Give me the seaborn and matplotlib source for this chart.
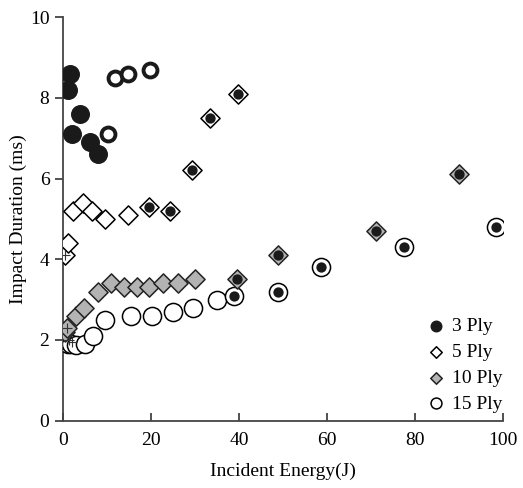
import numpy as np
import pandas as pd
import matplotlib
matplotlib.use("Agg")
import matplotlib.pyplot as plt
import seaborn as sns

ply3_x = [1.5, 1.0, 3.8, 2.0, 6.1, 8.0]
ply3_y = [8.6, 8.2, 7.6, 7.1, 6.9, 6.6]
ply3_ring_x = [11.8, 14.7, 19.7, 10.2]
ply3_ring_y = [8.5, 8.6, 8.7, 7.1]

ply5_x = [0.5, 1.0, 2.3, 4.5, 6.5, 9.5, 14.7, 19.6, 24.4, 29.2, 33.5, 39.7]
ply5_y = [4.1, 4.4, 5.2, 5.4, 5.2, 5.0, 5.1, 5.3, 5.2, 6.2, 7.5, 8.1]

ply10_x = [0.5, 0.8, 2.8, 4.8, 8.0, 10.9, 13.9, 16.7, 19.6, 22.8, 26.0, 30.0,
           39.6, 48.9, 71.2, 90.0]
ply10_y = [2.2, 2.3, 2.6, 2.8, 3.2, 3.4, 3.3, 3.3, 3.3, 3.4, 3.4, 3.5,
           3.5, 4.1, 4.7, 6.1]

ply15_x = [0.4, 1.0, 1.8, 3.0, 4.9, 6.8, 9.6, 15.4, 20.3, 25.0, 29.6, 35.0,
           38.8, 48.9, 58.6, 77.6, 98.5]
ply15_y = [2.0, 1.9, 1.9, 1.88, 1.9, 2.1, 2.5, 2.6, 2.6, 2.7, 2.8, 3.0,
           3.1, 3.2, 3.8, 4.3, 4.8]

# points marked with a black dot inside
dot_x = [19.6, 24.4, 29.2, 33.5, 39.7, 39.6, 48.9, 71.2, 90.0,
         38.8, 48.9, 58.6, 77.6, 98.5]
dot_y = [5.3, 5.2, 6.2, 7.5, 8.1, 3.5, 4.1, 4.7, 6.1,
         3.1, 3.2, 3.8, 4.3, 4.8]

cross_x = [0.5, 0.8, 1.2, 2.0]
cross_y = [4.1, 2.3, 2.0, 1.95]

plt.rcParams["font.family"] = ["Liberation Serif", "DejaVu Serif"]

fig = plt.figure(figsize=(5.23, 4.88), dpi=100)
ax = fig.add_axes([0.121, 0.138, 0.840, 0.827])

sns.scatterplot(x=ply15_x, y=ply15_y, ax=ax, marker="o", s=170, color="white",
                edgecolor="black", linewidth=1.1, label="15 Ply", zorder=3)
sns.scatterplot(x=ply10_x, y=ply10_y, ax=ax, marker="D", s=95, color="#b3b3b3",
                edgecolor="#222222", linewidth=1.1, label="10 Ply", zorder=4)
sns.scatterplot(x=ply5_x, y=ply5_y, ax=ax, marker="D", s=95, color="white",
                edgecolor="black", linewidth=1.1, label="5 Ply", zorder=4)
sns.scatterplot(x=ply3_x, y=ply3_y, ax=ax, marker="o", s=160, color="#1a1a1a",
                edgecolor="#1a1a1a", linewidth=1, label="3 Ply", zorder=5)
sns.scatterplot(x=ply3_ring_x, y=ply3_ring_y, ax=ax, marker="o", s=100,
                color="white", edgecolor="#1a1a1a", linewidth=2.8, zorder=5)
sns.scatterplot(x=dot_x, y=dot_y, ax=ax, marker="o", s=55, color="#1a1a1a",
                edgecolor="#1a1a1a", linewidth=0, zorder=6)
sns.scatterplot(x=cross_x, y=cross_y, ax=ax, marker="+", s=60, color="#333333",
                linewidth=0.8, zorder=6)

ax.set_xlim(0, 100)
ax.set_ylim(0, 10)
ax.set_xticks(np.arange(0, 101, 20))
ax.set_yticks(np.arange(0, 11, 2))
ax.set_xlabel("Incident Energy(J)", fontsize=14, labelpad=10)
ax.set_ylabel("Impact Duration (ms)", fontsize=14, labelpad=2)
ax.tick_params(axis="x", direction="in", length=6, width=1.2, labelsize=14,
               pad=8, color="#333333")
ax.tick_params(axis="y", direction="out", length=6, width=1.2, labelsize=14,
               pad=4, color="#333333")
for side in ["top", "right"]:
    ax.spines[side].set_visible(False)
for side in ["left", "bottom"]:
    ax.spines[side].set_color("#444444")
    ax.spines[side].set_linewidth(1.3)

handles, labels = ax.get_legend_handles_labels()
order = [labels.index(l) for l in ["3 Ply", "5 Ply", "10 Ply", "15 Ply"]]
ax.legend([handles[i] for i in order], [labels[i] for i in order],
          loc="lower right", bbox_to_anchor=(1.0, 0.02), frameon=False,
          fontsize=14, markerscale=0.6, handlelength=0.8, handletextpad=0.45,
          labelspacing=0.42, borderpad=0, borderaxespad=0)

fig.savefig("out.png", dpi=100)
